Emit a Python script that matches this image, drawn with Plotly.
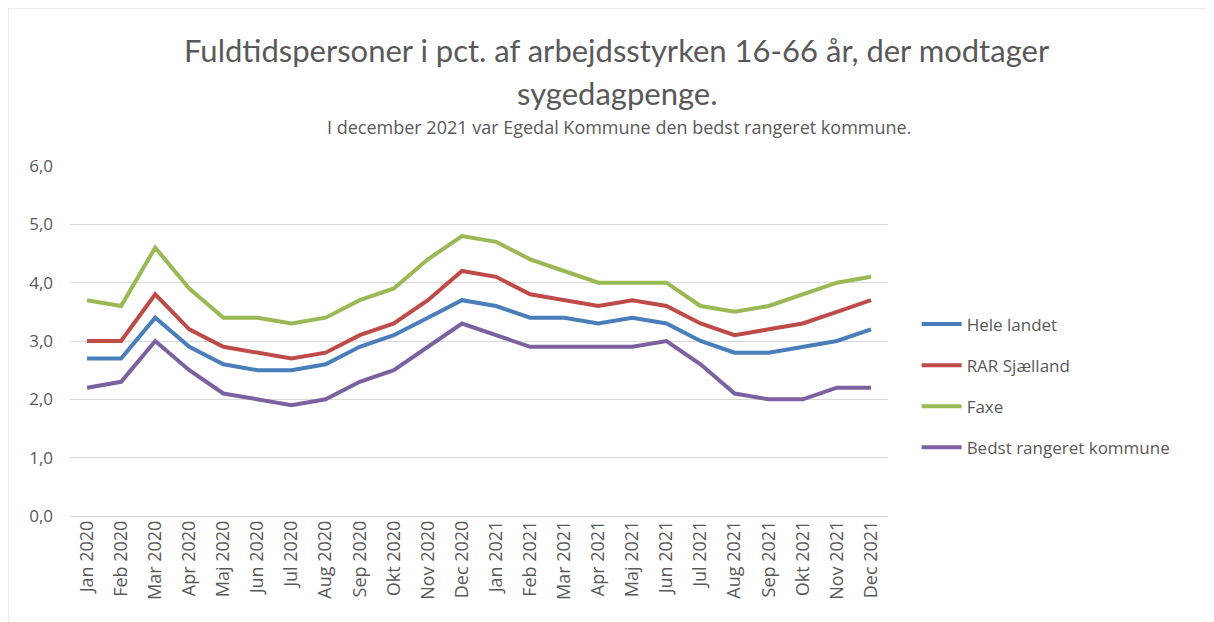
import plotly.graph_objects as go

months = ["Jan 2020", "Feb 2020", "Mar 2020", "Apr 2020", "Maj 2020", "Jun 2020",
          "Jul 2020", "Aug 2020", "Sep 2020", "Okt 2020", "Nov 2020", "Dec 2020",
          "Jan 2021", "Feb 2021", "Mar 2021", "Apr 2021", "Maj 2021", "Jun 2021",
          "Jul 2021", "Aug 2021", "Sep 2021", "Okt 2021", "Nov 2021", "Dec 2021"]

hele_landet = [2.7, 2.7, 3.4, 2.9, 2.6, 2.5, 2.5, 2.6, 2.9, 3.1, 3.4, 3.7,
               3.6, 3.4, 3.4, 3.3, 3.4, 3.3, 3.0, 2.8, 2.8, 2.9, 3.0, 3.2]
rar_sjaelland = [3.0, 3.0, 3.8, 3.2, 2.9, 2.8, 2.7, 2.8, 3.1, 3.3, 3.7, 4.2,
                 4.1, 3.8, 3.7, 3.6, 3.7, 3.6, 3.3, 3.1, 3.2, 3.3, 3.5, 3.7]
faxe = [3.7, 3.6, 4.6, 3.9, 3.4, 3.4, 3.3, 3.4, 3.7, 3.9, 4.4, 4.8,
        4.7, 4.4, 4.2, 4.0, 4.0, 4.0, 3.6, 3.5, 3.6, 3.8, 4.0, 4.1]
bedst = [2.2, 2.3, 3.0, 2.5, 2.1, 2.0, 1.9, 2.0, 2.3, 2.5, 2.9, 3.3,
         3.1, 2.9, 2.9, 2.9, 2.9, 3.0, 2.6, 2.1, 2.0, 2.0, 2.2, 2.2]

series = [
    ("Hele landet", hele_landet, "#4A7EBB"),
    ("RAR Sjælland", rar_sjaelland, "#BE4B48"),
    ("Faxe", faxe, "#98B954"),
    ("Bedst rangeret kommune", bedst, "#7D60A0"),
]

TFONT = "Lato, 'Open Sans', sans-serif"
SFONT = "'Open Sans', Lato, sans-serif"
GRAY = "#595959"

# The page body adds an 8px offset; margins compensate so the plot lands on target.
OFF = 8
L, T, R, B = 70 - OFF, 166 - OFF, 326 + OFF, 106 + OFF

fig = go.Figure()
for i, (name, vals, col) in enumerate(series):
    fig.add_trace(go.Scatter(
        x=months, y=vals, name=name, mode="lines",
        line=dict(color=col, width=4),
        legendgroup=f"g{i}",
    ))

fig.update_layout(
    width=1214, height=622,
    margin=dict(l=L, r=R, t=T, b=B),
    paper_bgcolor="white", plot_bgcolor="white",
    font=dict(family=SFONT, color=GRAY, size=15),
    separators=",.",
    showlegend=True,
    legend=dict(
        x=1.035, y=(516 - 386) / 350, xanchor="left", yanchor="middle",
        traceorder="grouped", tracegroupgap=16,
        font=dict(size=17, color=GRAY, family=SFONT),
        itemwidth=40,
    ),
    xaxis=dict(
        type="category", range=[-0.5, 23.5],
        tickangle=-90, tickfont=dict(size=18, color=GRAY, family=SFONT),
        showgrid=False, showline=False, ticks="", fixedrange=True,
    ),
    yaxis=dict(
        range=[0, 6], dtick=1, tickformat=".1f",
        showgrid=True, gridcolor="#D9D9D9", gridwidth=1,
        zeroline=True, zerolinecolor="#D9D9D9", zerolinewidth=1,
        tickfont=dict(size=17, color=GRAY, family=SFONT), ticks="",
        ticklabelstandoff=16,
    ),
    annotations=[
        dict(text="Fuldtidspersoner i pct. af arbejdsstyrken 16-66 år, der modtager",
             xref="paper", yref="paper", x=(617 - 70) / 818, y=(516 - 50) / 350,
             showarrow=False, xanchor="center", yanchor="middle",
             font=dict(size=31, color=GRAY, family=TFONT)),
        dict(text="sygedagpenge.",
             xref="paper", yref="paper", x=(617 - 70) / 818, y=(516 - 93) / 350,
             showarrow=False, xanchor="center", yanchor="middle",
             font=dict(size=31, color=GRAY, family=TFONT)),
        dict(text="I december 2021 var Egedal Kommune den bedst rangeret kommune.",
             xref="paper", yref="paper", x=(619 - 70) / 818, y=(516 - 127) / 350,
             showarrow=False, xanchor="center", yanchor="middle",
             font=dict(size=18, color=GRAY, family=SFONT)),
    ],
    shapes=[
        dict(type="rect", xref="paper", yref="paper",
             x0=(8 - 70) / 818, x1=(1212 - 70) / 818,
             y0=(516 - 640) / 350, y1=(516 - 8) / 350,
             line=dict(color="#D9D9D9", width=1), fillcolor="rgba(0,0,0,0)",
             layer="below"),
    ],
)

fig.write_html("out.html")
